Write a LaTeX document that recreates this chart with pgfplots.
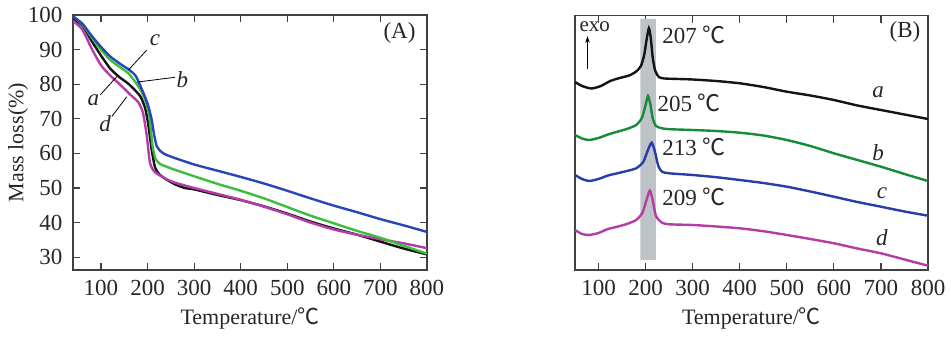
\documentclass[border=0pt]{standalone}
\usepackage{fontspec}
\setmainfont{Liberation Serif}
\newfontfamily\cjk{Noto Sans CJK SC}
\usepackage{pgfplots}
\usetikzlibrary{arrows.meta}
\pgfplotsset{compat=1.18}
\newcommand{\dC}{{\cjk ℃}}
\definecolor{cA}{RGB}{20,20,20}
\definecolor{gA}{RGB}{60,190,60}
\definecolor{bA}{RGB}{40,70,185}
\definecolor{mA}{RGB}{180,60,170}
\definecolor{gB}{RGB}{20,140,60}
\definecolor{bB}{RGB}{40,60,170}
\definecolor{mB}{RGB}{180,60,165}
\definecolor{band}{RGB}{190,195,200}
\tikzset{
 curve/.style={line width=2.4pt, smooth, tension=0.4},
 ann/.style={font=\fontsize{23}{26}\selectfont, text=black!85},
 lab/.style={font=\fontsize{23}{26}\selectfont\itshape, text=black!85},
}
\begin{document}
\begin{tikzpicture}
\useasboundingbox (0pt,0pt) rectangle (951pt,339pt);
\pgfplotsset{
 every axis/.append style={
  scale only axis, anchor=south west,
  axis line style={draw=black!75, line width=1.2pt},
  tick style={draw=black!75, line width=1.2pt},
  tick align=inside, major tick length=7pt,
  tick label style={font=\fontsize{23}{26}\selectfont, text=black!85},
  xticklabel style={yshift=-7pt},
  yticklabel style={xshift=-7pt},
  label style={font=\fontsize{22}{26}\selectfont, text=black!85},
  /pgf/number format/assume math mode=true,
  xtick={100,200,...,800},
  xlabel={Temperature/\dC},
  xlabel style={yshift=-5pt},
  ylabel style={yshift=-7pt},
  no markers,
 },
}
% ---------- Panel A ----------
\begin{axis}[at={(73pt,69pt)}, width=354pt, height=255pt,
  xmin=40, xmax=800, ymin=26.3, ymax=100,
  ytick={30,40,...,100}, ylabel={Mass loss(\%)}]
\addplot[curve, color=cA] coordinates {(40,98.8) (60,97) (80,92.5) (100,88.3) (120,84.5) (140,82) (160,80) (184,76.6) (195,73) (202,68) (209,61) (216,56) (225,54) (240,52.5) (260,51) (280,50) (300,49.6) (350,48) (400,46.5) (450,44.7) (500,42.6) (550,40.3) (600,38.3) (650,36.5) (700,34.5) (750,32.5) (800,30.8)};
\addplot[curve, color=mA] coordinates {(40,98.3) (60,95.8) (80,90.3) (100,85.5) (120,82.5) (140,80) (163,77) (180,74.8) (190,71.8) (198,65.5) (205,57.5) (213,55) (222,54) (240,52.6) (260,51.5) (300,50) (350,48.3) (400,46.6) (450,44.6) (500,42.4) (550,40) (600,38) (650,36.5) (700,35.2) (750,34) (800,32.6)};
\addplot[curve, color=gA] coordinates {(40,99.6) (60,97.3) (80,93.5) (100,90) (120,87) (140,85) (160,83) (184,78.6) (196,75) (203,71.5) (207,67) (211,62) (217,58.5) (226,57) (240,56.2) (260,55.2) (300,53.4) (350,51.2) (400,49.2) (450,47) (500,44.5) (550,42) (600,39.8) (650,37.6) (700,35.6) (750,33.3) (800,31)};
\addplot[curve, color=bA] coordinates {(40,99.6) (60,97.5) (80,94) (100,90.8) (120,88) (140,86) (160,84.2) (175,82.3) (191,77.5) (201,74) (209,69.7) (214,65.5) (220,62) (230,60.4) (240,59.6) (260,58.6) (300,56.8) (350,55) (400,53.2) (450,51.3) (500,49.2) (550,47) (600,44.9) (650,43) (700,41) (750,39.2) (800,37.3)};
\draw[black, line width=0.8pt] (axis cs:198.6,89.9) -- (axis cs:159,84.1);
\draw[black, line width=0.8pt] (axis cs:259,82) -- (axis cs:177,80.6);
\draw[black, line width=0.8pt] (axis cs:98.6,76.9) -- (axis cs:134,82.2);
\draw[black, line width=0.8pt] (axis cs:123.6,70.7) -- (axis cs:155.7,76.4);
\node[lab] at (axis cs:216,92.6) {c};
\node[lab] at (axis cs:275,81.3) {b};
\node[lab] at (axis cs:84,75.3) {a};
\node[lab] at (axis cs:109,68.6) {d};
\node[ann] at (axis cs:741,94.7) {(A)};
\end{axis}
% ---------- Panel B ----------
\begin{axis}[at={(575pt,69pt)}, width=353pt, height=254.3pt,
  xmin=50, xmax=800, ymin=0, ymax=254.3, ytick=\empty]
\addplot[draw=none, fill=band] coordinates {(189,10) (222,10) (222,251) (189,251)} \closedcycle;
\addplot[curve, color=cA] coordinates {(50,188) (65,184) (85,181.5) (105,184) (125,189) (145,192) (165,194.5) (180,198.5) (190,204) (197,215) (202,230) (207,241.7) (211,232) (215,213) (220,200) (228,193) (240,191.5) (270,191) (300,190.5) (350,189) (400,186.7) (450,183) (500,178.3) (550,174.5) (600,170) (650,164.5) (700,160) (750,155.5) (800,151)};
\addplot[curve, color=gB] coordinates {(50,135) (65,131.5) (80,130) (100,132) (120,135.5) (140,138.3) (160,141) (180,145) (192,152) (200,165) (205,174) (210,166) (215,152) (222,144) (235,141.7) (250,140.8) (300,140) (350,139) (400,137.3) (450,134.5) (500,130) (550,124) (600,116.7) (650,110) (700,103.3) (750,96) (800,89)};
\addplot[curve, color=bB] coordinates {(50,95) (65,91) (80,89) (100,91) (120,94.5) (140,96.7) (160,99) (180,101.7) (195,108) (205,120) (213,127.3) (220,118) (227,104) (235,98.3) (250,96.7) (300,95) (350,92.8) (400,90) (450,87) (500,83.3) (550,78.5) (600,73.3) (650,68) (700,63.3) (750,58.5) (800,54.3)};
\addplot[curve, color=mB] coordinates {(50,40) (65,36) (80,35) (100,37) (120,41) (140,43.3) (160,46) (180,50) (193,57) (202,70) (209,79.3) (215,70) (222,54) (235,47.3) (250,45.7) (300,45) (350,43.5) (400,41.7) (450,38.8) (500,35) (550,31) (600,26.7) (650,21.5) (700,16.7) (750,10.5) (800,4.3)};
\node[ann, anchor=west] at (axis cs:228,235) {207 \dC};
\node[ann, anchor=west] at (axis cs:218,167) {205 \dC};
\node[ann, anchor=west] at (axis cs:228,123) {213 \dC};
\node[ann, anchor=west] at (axis cs:228,73) {209 \dC};
\node[lab] at (axis cs:694,178) {a};
\node[lab] at (axis cs:694,117) {b};
\node[lab] at (axis cs:702,77) {c};
\node[lab] at (axis cs:702,32) {d};
\node[ann] at (axis cs:751,238) {(B)};
\node[ann, font=\fontsize{21}{24}\selectfont] at (axis cs:92,243) {exo};
\draw[-{Stealth[length=7pt,width=4.5pt]}, black, line width=0.8pt] (axis cs:76.6,201) -- (axis cs:76.6,234);
\end{axis}
\end{tikzpicture}
\end{document}
